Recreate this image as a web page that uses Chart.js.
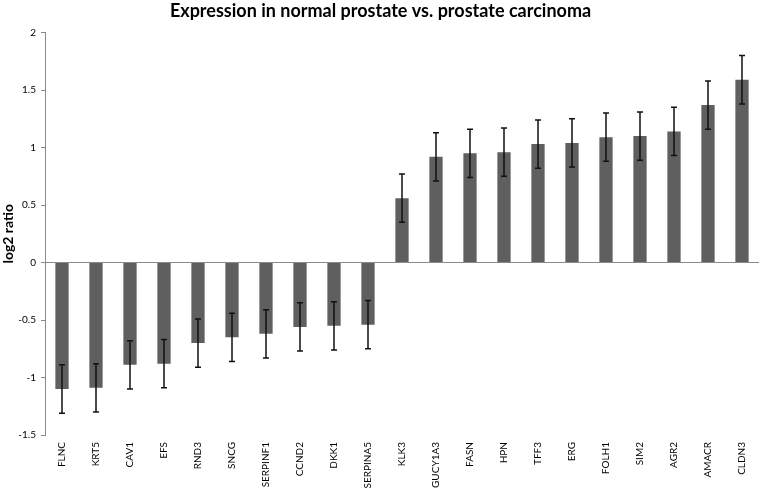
<!DOCTYPE html>
<html>
<head>
<meta charset="utf-8">
<script src="https://cdn.jsdelivr.net/npm/chart.js@4/dist/chart.umd.min.js"></script>
<style>
  html, body { margin: 0; padding: 0; background: #ffffff; }
  #wrap { width: 761px; height: 495px; position: relative; }
</style>
</head>
<body>
<div id="wrap"><canvas id="c" width="761" height="495"></canvas></div>
<script>
const genes = ["FLNC","KRT5","CAV1","EFS","RND3","SNCG","SERPINF1","CCND2","DKK1","SERPINA5","KLK3","GUCY1A3","FASN","HPN","TFF3","ERG","FOLH1","SIM2","AGR2","AMACR","CLDN3"];
const log2Ratio = [-1.10,-1.09,-0.89,-0.88,-0.70,-0.65,-0.62,-0.56,-0.55,-0.54,0.56,0.92,0.95,0.96,1.03,1.04,1.09,1.10,1.14,1.37,1.59];
const errorSize = [0.21,0.21,0.21,0.21,0.21,0.21,0.21,0.21,0.21,0.21,0.21,0.21,0.21,0.21,0.21,0.21,0.21,0.21,0.21,0.21,0.21];
const yTicks = [-1.5,-1,-0.5,0,0.5,1,1.5,2];
const yTickLabels = ["-1.5","-1","-0.5","0","0.5","1","1.5","2"];

const FONT = "Lato, 'Liberation Sans', sans-serif";

const errorBars = {
  id: 'errorBars',
  afterDatasetsDraw(chart) {
    const meta = chart.getDatasetMeta(0);
    const ys = chart.scales.y;
    const ctx = chart.ctx;
    ctx.save();
    ctx.strokeStyle = '#111111';
    ctx.lineWidth = 1.5;
    meta.data.forEach((bar, i) => {
      const v = log2Ratio[i], e = errorSize[i];
      const yTop = ys.getPixelForValue(v + e);
      const yBot = ys.getPixelForValue(v - e);
      const x = bar.x;
      const cap = 3;
      ctx.beginPath();
      ctx.moveTo(x, yTop); ctx.lineTo(x, yBot);
      ctx.moveTo(x - cap, yTop); ctx.lineTo(x + cap, yTop);
      ctx.moveTo(x - cap, yBot); ctx.lineTo(x + cap, yBot);
      ctx.stroke();
    });
    ctx.restore();
  }
};

new Chart(document.getElementById('c'), {
  type: 'bar',
  data: {
    labels: genes,
    datasets: [{
      data: log2Ratio,
      backgroundColor: '#5f5f5f',
      borderWidth: 0,
      barPercentage: 0.39,
      categoryPercentage: 1.0
    }]
  },
  plugins: [errorBars],
  options: {
    responsive: false,
    animation: false,
    layout: { padding: { left: 0, right: 0, top: 0, bottom: 0 } },
    plugins: {
      legend: { display: false },
      tooltip: { enabled: false },
      title: {
        display: true,
        text: 'Expression in normal prostate vs. prostate carcinoma',
        color: '#000000',
        font: { family: FONT, size: 18, weight: 'bold' },
        padding: { top: 0, bottom: 11 }
      }
    },
    scales: {
      x: {
        grid: { display: false, drawTicks: false },
        border: { display: false },
        ticks: {
          color: '#000000',
          font: { family: FONT, size: 10 },
          minRotation: 90,
          maxRotation: 90,
          autoSkip: false,
          padding: 7
        },
        afterFit(scale) { scale.height = 60; }
      },
      y: {
        min: -1.5,
        max: 2,
        afterBuildTicks(scale) { scale.ticks = yTicks.map(v => ({ value: v })); },
        grid: {
          drawOnChartArea: true,
          color: (c) => (c.tick && c.tick.value === 0) ? '#8a8a8a' : 'rgba(0,0,0,0)',
          tickColor: '#8a8a8a',
          tickLength: 4,
          lineWidth: 1
        },
        border: { display: true, color: '#8a8a8a', width: 1 },
        ticks: {
          color: '#000000',
          font: { family: FONT, size: 10 },
          padding: 5,
          callback: (value, index) => yTickLabels[yTicks.indexOf(value)]
        },
        title: {
          display: true,
          text: 'log2 ratio',
          color: '#000000',
          font: { family: FONT, size: 14, weight: 'bold' },
          padding: { top: 0, bottom: 0 }
        },
        afterFit(scale) { scale.width = 45; }
      }
    }
  }
});
</script>
</body>
</html>
